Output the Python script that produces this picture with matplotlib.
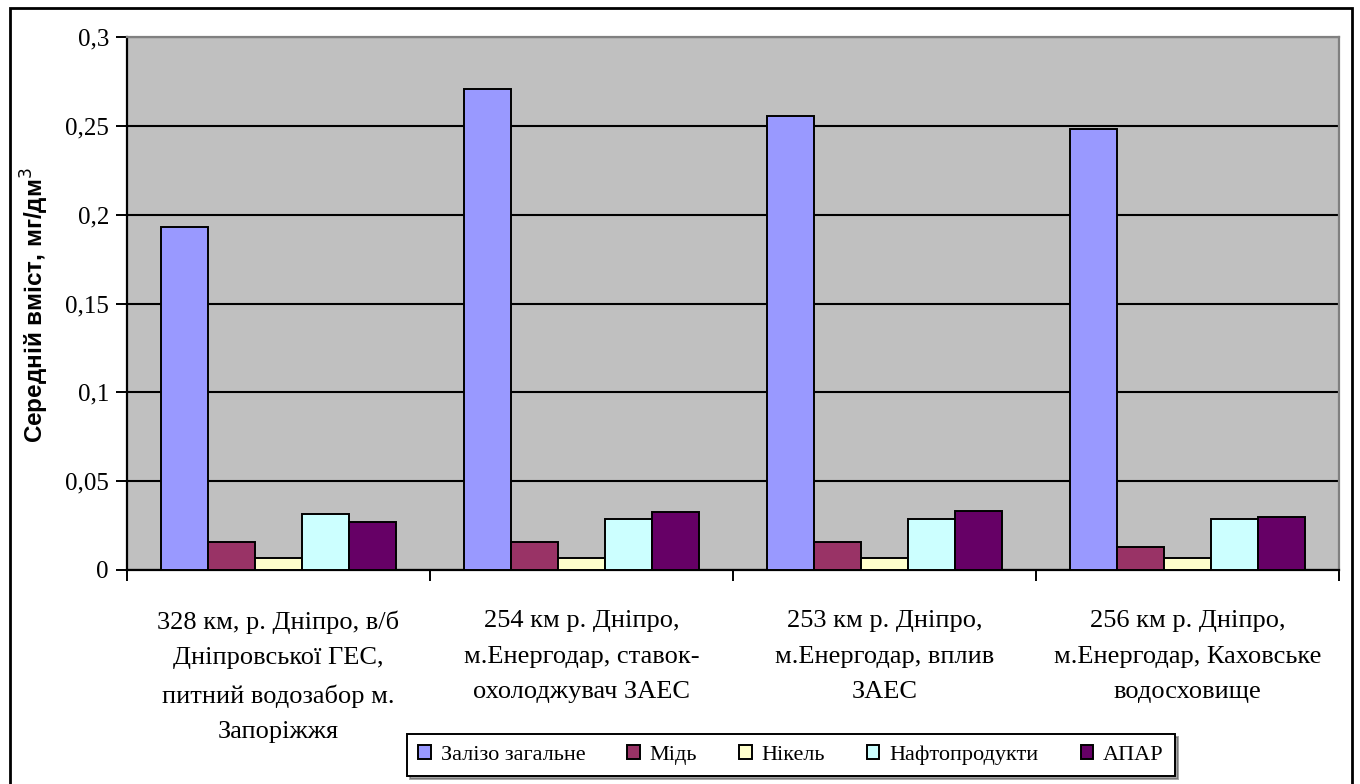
import matplotlib
matplotlib.use('Agg')
import matplotlib.pyplot as plt
from matplotlib.patches import Rectangle
from matplotlib.ticker import FuncFormatter
import numpy as np

sites = ['328 км, р. Дніпро, в/б\nДніпровської ГЕС,\nпитний водозабор м.\nЗапоріжжя',
         '254 км р. Дніпро,\nм.Енергодар, ставок-\nохолоджувач ЗАЕС',
         '253 км р. Дніпро,\nм.Енергодар, вплив\nЗАЕС',
         '256 км р. Дніпро,\nм.Енергодар, Каховське\nводосховище']

iron = [0.193, 0.271, 0.2555, 0.248]
copper = [0.016, 0.016, 0.016, 0.013]
nickel = [0.007, 0.007, 0.007, 0.007]
oil = [0.0315, 0.0285, 0.0285, 0.0285]
apar = [0.027, 0.0328, 0.033, 0.030]

names = ['Залізо загальне', 'Мідь', 'Нікель', 'Нафтопродукти', 'АПАР']
colors = ['#9999FF', '#993366', '#FFFFCC', '#CCFFFF', '#660066']
series = [iron, copper, nickel, oil, apar]

serif = ['Liberation Serif', 'DejaVu Serif']

fig = plt.figure(figsize=(13.6, 7.84), dpi=100)
ax = fig.add_axes([127/1360, 1 - 570/784, (1339 - 127)/1360, (570 - 37)/784])
ax.set_facecolor('#C0C0C0')

x = np.arange(len(sites))
w = 0.155
for i, (vals, c, n) in enumerate(zip(series, colors, names)):
    ax.bar(x + (i - 2) * w, vals, w, color=c, edgecolor='black', linewidth=1.4,
           label=n, zorder=3)

ax.set_xlim(-0.5, 3.5)
ax.set_ylim(0, 0.3)
ax.set_yticks(np.arange(0, 0.301, 0.05))
ax.yaxis.set_major_formatter(FuncFormatter(
    lambda v, p: '0' if v == 0 else ('%g' % round(v, 2)).replace('.', ',')))
ax.yaxis.grid(True, color='black', linewidth=1.5, zorder=1)
ax.set_axisbelow(True)

ax.set_xticks([-0.5, 0.5, 1.5, 2.5, 3.5])
ax.set_xticklabels([])
ax.set_xticks(x, minor=True)
ax.set_xticklabels(sites, minor=True, fontfamily=serif, fontsize=19, linespacing=1.8)
ax.tick_params(axis='x', which='minor', length=0, pad=29)
ax.tick_params(axis='x', which='major', length=8, width=1.4, direction='out')
ax.tick_params(axis='y', length=8, width=1.4, direction='out', pad=5)
for lab in ax.get_yticklabels():
    lab.set_fontfamily(serif)
    lab.set_fontsize(18)

for s in ['left', 'bottom']:
    ax.spines[s].set_color('black')
    ax.spines[s].set_linewidth(1.6)
for s in ['top', 'right']:
    ax.spines[s].set_color('#808080')
    ax.spines[s].set_linewidth(1.6)

fig.text(35/1360, 1 - 305/784, 'Середній вміст, мг/дм$^3$', rotation=90,
         ha='center', va='center', fontsize=17.5, fontweight='bold',
         family=['Liberation Sans', 'DejaVu Sans'])

leg = fig.legend(loc='center', bbox_to_anchor=(791/1360, 1 - 755/784), ncol=5,
                 prop={'family': serif, 'size': 16}, frameon=True, fancybox=False,
                 shadow=True, edgecolor='black', handlelength=0.55, handleheight=0.55,
                 handletextpad=0.45, columnspacing=1.9, borderpad=0.5)
leg.get_frame().set_linewidth(1.4)

fig.add_artist(Rectangle((10/1360, -0.01), (1352 - 10)/1360, 1 - 8/784 + 0.01,
                         transform=fig.transFigure, fill=False, edgecolor='black',
                         linewidth=2, clip_on=False))

fig.savefig('out.png', dpi=100)
